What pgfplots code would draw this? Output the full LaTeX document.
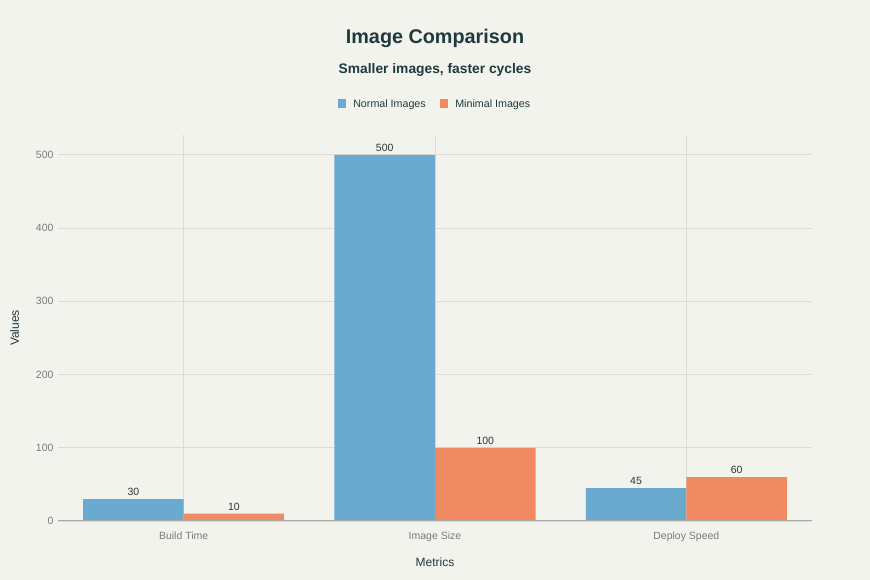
\documentclass[border=0pt]{standalone}
\usepackage{pgfplots}
\pgfplotsset{compat=1.18}
\usepackage{fontspec}
\setmainfont{Liberation Sans}
\definecolor{bg}{HTML}{F3F3EE}
\definecolor{normal}{HTML}{6AAACF}
\definecolor{minimal}{HTML}{EF8A62}
\definecolor{titlec}{HTML}{1F3A3D}
\definecolor{tickc}{HTML}{7A7A7A}
\definecolor{gridc}{HTML}{DCDCD6}
\definecolor{axisc}{HTML}{A8A8A4}
\begin{document}
\begin{tikzpicture}
\fill[bg] (0pt,0pt) rectangle (870pt,580pt);
\useasboundingbox (0pt,0pt) rectangle (870pt,580pt);
\node[text=titlec, font=\bfseries\fontsize{19.8}{24}\selectfont] at (435pt,542pt) {Image Comparison};
\node[text=titlec, font=\bfseries\fontsize{13.8}{16}\selectfont] at (435pt,510pt) {Smaller images, faster cycles};
\begin{axis}[
  at={(58pt,59pt)}, anchor=south west,
  scale only axis, width=754pt, height=386pt,
  xmin=-0.5, xmax=2.5, ymin=0, ymax=527,
  xtick={0,1,2}, xticklabels={Build Time, Image Size, Deploy Speed},
  ytick={0,100,200,300,400,500},
  /pgf/number format/assume math mode=true,
  tick label style={text=tickc, font=\fontsize{10.5}{12}\selectfont},
  xticklabel style={yshift=-7pt},
  yticklabel style={xshift=-1pt},
  major tick length=0pt,
  axis line style={draw=none},
  axis x line*=bottom, axis y line*=left,
  grid=major, major grid style={gridc, line width=0.6pt},
  xlabel={Metrics}, ylabel={Values},
  label style={text=titlec, font=\fontsize{12}{14}\selectfont},
  xlabel style={yshift=-10pt},
  ylabel style={yshift=10pt},
  ybar, bar width=0.4,
  nodes near coords,
  every node near coord/.append style={text=black!80, font=\fontsize{10.5}{12}\selectfont},
  legend columns=2,
  legend style={at={(0.5,1.08)}, anchor=center, draw=none, fill=none, font=\fontsize{10.7}{12}\selectfont, text=titlec,
    /tikz/every odd column/.append style={column sep=5pt},
    /tikz/every even column/.append style={column sep=12pt}},
  legend image code/.code={\fill[#1] (0pt,-3.5pt) rectangle (8.5pt,5pt);},
]
\addplot[fill=normal, draw=none, bar shift=-0.2] coordinates {(0,30) (1,500) (2,45)};
\addplot[fill=minimal, draw=none, bar shift=0.2] coordinates {(0,10) (1,100) (2,60)};
\legend{Normal Images, Minimal Images}
\draw[axisc, line width=1.5pt] (axis cs:-0.5,0) -- (axis cs:2.5,0);
\end{axis}
\end{tikzpicture}
\end{document}
